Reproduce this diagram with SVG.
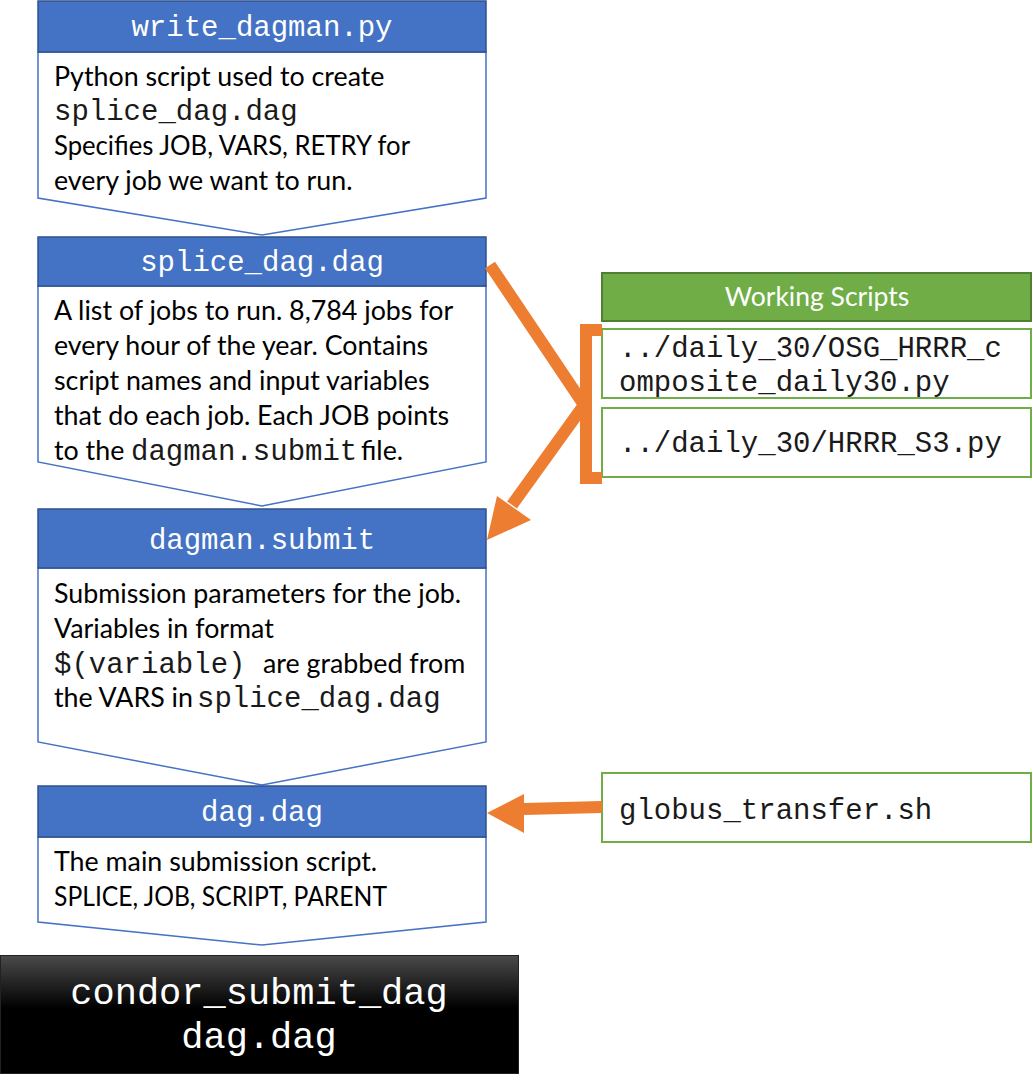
<svg xmlns="http://www.w3.org/2000/svg" width="1033" height="1082" viewBox="0 0 1033 1082">
  <defs>
    <style>
      .hdr { fill: #4472C4; stroke: #2F528F; stroke-width: 1.5; }
      .body { fill: #FFFFFF; stroke: #4472C4; stroke-width: 1.5; }
      .mono { font-family: "Liberation Mono", "Courier New", monospace; font-size: 29px; fill: #1a1a1a; }
      .hmono { font-family: "Liberation Mono", "Courier New", monospace; font-size: 29px; fill: #FFFFFF; text-anchor: middle; }
      .sans { font-family: Lato, "Noto Sans", "Liberation Sans", sans-serif; font-size: 26.8px; fill: #000000; }
      .ghdr { fill: #70AD47; stroke: #507E32; stroke-width: 2; }
      .gbox { fill: #FFFFFF; stroke: #70AD47; stroke-width: 2; }
      .orange { fill: #ED7D31; }
      .oline { fill: none; stroke: #ED7D31; stroke-width: 12; }
    </style>
    <linearGradient id="blackGrad" x1="0" y1="0" x2="0" y2="1">
      <stop offset="0" stop-color="#4a4a4a"/>
      <stop offset="0.45" stop-color="#000000"/>
      <stop offset="1" stop-color="#000000"/>
    </linearGradient>
  </defs>

  <g id="node-write-dagman">
    <path class="body" d="M38,52 L486,52 L486,198 L262,235 L38,198 Z"/>
    <rect class="hdr" x="38" y="1" width="448" height="51"/>
    <text class="hmono" x="262" y="36">write_dagman.py</text>
    <text class="sans" x="54" y="86">Python script used to create</text>
    <text class="mono" x="54" y="120">splice_dag.dag</text>
    <text class="sans" x="54" y="155" textLength="356" lengthAdjust="spacingAndGlyphs">Specifies JOB, VARS, RETRY for</text>
    <text class="sans" x="54" y="190">every job we want to run.</text>
  </g>

  <g id="node-splice-dag">
    <path class="body" d="M38,286 L486,286 L486,462 L262,506 L38,462 Z"/>
    <rect class="hdr" x="38" y="237" width="448" height="49"/>
    <text class="hmono" x="262" y="271">splice_dag.dag</text>
    <text class="sans" x="54" y="320">A list of jobs to run. 8,784 jobs for</text>
    <text class="sans" x="54" y="355">every hour of the year. Contains</text>
    <text class="sans" x="54" y="390">script names and input variables</text>
    <text class="sans" x="54" y="425">that do each job. Each JOB points</text>
    <text class="sans" x="54" y="460">to the</text>
    <text class="mono" x="131" y="460">dagman.submit</text>
    <text class="sans" x="361" y="460">file.</text>
  </g>

  <g id="node-dagman-submit">
    <path class="body" d="M38,568 L486,568 L486,742 L262,785 L38,742 Z"/>
    <rect class="hdr" x="38" y="509" width="448" height="59"/>
    <text class="hmono" x="262" y="549">dagman.submit</text>
    <text class="sans" x="54" y="603">Submission parameters for the job.</text>
    <text class="sans" x="54" y="638">Variables in format</text>
    <text class="mono" x="54" y="673">$(variable)</text>
    <text class="sans" x="263" y="673">are grabbed from</text>
    <text class="sans" x="54" y="707">the VARS in</text>
    <text class="mono" x="197" y="707">splice_dag.dag</text>
  </g>

  <g id="node-dag-dag">
    <path class="body" d="M38,837 L486,837 L486,922 L262,945 L38,922 Z"/>
    <rect class="hdr" x="38" y="786" width="448" height="51"/>
    <text class="hmono" x="262" y="821">dag.dag</text>
    <text class="sans" x="54" y="871">The main submission script.</text>
    <text class="sans" x="54" y="906" textLength="333" lengthAdjust="spacingAndGlyphs">SPLICE, JOB, SCRIPT, PARENT</text>
  </g>

  <g id="node-condor">
    <rect x="0.5" y="955.5" width="518" height="118" fill="url(#blackGrad)" stroke="#222222" stroke-width="1"/>
    <text x="259" y="1004" font-family="Liberation Mono, Courier New, monospace" font-size="37px" fill="#FFFFFF" text-anchor="middle">condor_submit_dag</text>
    <text x="259" y="1048" font-family="Liberation Mono, Courier New, monospace" font-size="37px" fill="#FFFFFF" text-anchor="middle">dag.dag</text>
  </g>

  <g id="node-working-scripts">
    <rect class="ghdr" x="602" y="273" width="429" height="48"/>
    <text x="817" y="306" font-family="Lato, Noto Sans, Liberation Sans, sans-serif" font-size="26.5px" fill="#FFFFFF" text-anchor="middle">Working Scripts</text>
  </g>

  <g id="node-osg">
    <rect class="gbox" x="602" y="329" width="429" height="69"/>
    <text class="mono" x="619" y="357">../daily_30/OSG_HRRR_c</text>
    <text class="mono" x="619" y="391">omposite_daily30.py</text>
  </g>

  <g id="node-hrrr-s3">
    <rect class="gbox" x="602" y="408" width="429" height="69"/>
    <text class="mono" x="619" y="452">../daily_30/HRRR_S3.py</text>
  </g>

  <g id="node-globus">
    <rect class="gbox" x="602" y="773" width="429" height="69"/>
    <text class="mono" x="619" y="819">globus_transfer.sh</text>
  </g>

  <g id="connectors">
    <path class="oline" d="M602,330 L586,330 L586,478 L602,478" stroke-linejoin="miter"/>
    <line class="oline" x1="490" y1="265" x2="584" y2="405"/>
    <line class="oline" x1="584" y1="405" x2="512" y2="505"/>
    <polygon class="orange" points="487,540 497,496 531,520"/>
    <polygon class="orange" points="602,801 602,813 524,815 524,833 487,813 524,794 524,803"/>
  </g>
</svg>
